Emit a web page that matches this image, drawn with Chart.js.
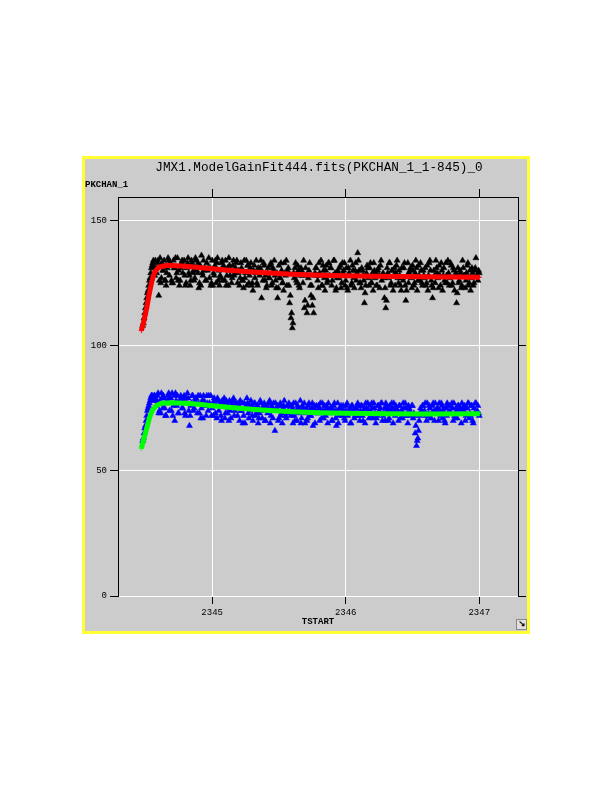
<!DOCTYPE html>
<html>
<head>
<meta charset="utf-8">
<script src="https://cdn.jsdelivr.net/npm/chart.js@4"></script>
<style>
  html, body { margin: 0; padding: 0; background: #ffffff; }
  #frame { position: absolute; left: 82px; top: 156px; width: 448px; height: 478px; box-sizing: border-box;
           border: 3px solid #ffff33; background: #cccccc; }
  #icon { position: absolute; left: 516px; top: 619px; width: 11px; height: 11px; box-sizing: border-box;
          border: 1px solid #888; background: #e0e0e0; font: bold 9px 'DejaVu Sans'; line-height: 9px;
          text-align: center; color: #000; }
  #c { position: absolute; left: 0; top: 0; }
</style>
</head>
<body>
<div id="frame"></div>
<div id="icon">↘</div>
<canvas id="c" width="612" height="792"></canvas>
<script>
const chartTitle = 'JMX1.ModelGainFit444.fits(PKCHAN_1_1-845)_0';
const yLabel = 'PKCHAN_1';
const xLabel = 'TSTART';
const xTicks = [2345, 2346, 2347];
const yTicks = [0, 50, 100, 150];

// sample times, first set
const tstart = [
2344.48,2344.49,2344.50,2344.51,2344.52,2344.53,2344.54,2344.55,2344.56,2344.57,
2344.58,2344.59,2344.60,2344.61,2344.62,2344.63,2344.64,2344.65,2344.66,2344.67,
2344.68,2344.69,2344.70,2344.71,2344.72,2344.73,2344.74,2344.75,2344.76,2344.77,
2344.78,2344.79,2344.80,2344.81,2344.82,2344.83,2344.84,2344.85,2344.86,2344.87,
2344.88,2344.89,2344.90,2344.91,2344.92,2344.93,2344.94,2344.95,2344.96,2344.97,
2344.98,2344.99,2345.00,2345.01,2345.02,2345.03,2345.04,2345.05,2345.06,2345.07,
2345.08,2345.09,2345.10,2345.11,2345.12,2345.13,2345.14,2345.15,2345.16,2345.17,
2345.18,2345.19,2345.20,2345.21,2345.22,2345.23,2345.24,2345.25,2345.26,2345.27,
2345.28,2345.29,2345.30,2345.31,2345.32,2345.33,2345.34,2345.35,2345.36,2345.37,
2345.38,2345.39,2345.40,2345.41,2345.42,2345.43,2345.44,2345.45,2345.46,2345.47,
2345.48,2345.49,2345.50,2345.51,2345.52,2345.53,2345.54,2345.55,2345.56,2345.57,
2345.58,2345.59,2345.60,2345.61,2345.62,2345.63,2345.64,2345.65,2345.66,2345.67,
2345.68,2345.69,2345.70,2345.71,2345.72,2345.73,2345.74,2345.75,2345.76,2345.77,
2345.78,2345.79,2345.80,2345.81,2345.82,2345.83,2345.84,2345.85,2345.86,2345.87,
2345.88,2345.89,2345.90,2345.91,2345.92,2345.93,2345.94,2345.95,2345.96,2345.97,
2345.98,2345.99,2346.00,2346.01,2346.02,2346.03,2346.04,2346.05,2346.06,2346.07,
2346.08,2346.09,2346.10,2346.11,2346.12,2346.13,2346.14,2346.15,2346.16,2346.17,
2346.18,2346.19,2346.20,2346.21,2346.22,2346.23,2346.24,2346.25,2346.26,2346.27,
2346.28,2346.29,2346.30,2346.31,2346.32,2346.33,2346.34,2346.35,2346.36,2346.37,
2346.38,2346.39,2346.40,2346.41,2346.42,2346.43,2346.44,2346.45,2346.46,2346.47,
2346.48,2346.49,2346.50,2346.51,2346.52,2346.53,2346.54,2346.55,2346.56,2346.57,
2346.58,2346.59,2346.60,2346.61,2346.62,2346.63,2346.64,2346.65,2346.66,2346.67,
2346.68,2346.69,2346.70,2346.71,2346.72,2346.73,2346.74,2346.75,2346.76,2346.77,
2346.78,2346.79,2346.80,2346.81,2346.82,2346.83,2346.84,2346.85,2346.86,2346.87,
2346.88,2346.89,2346.90,2346.91,2346.92,2346.93,2346.94,2346.95,2346.96,2346.97,
2346.98,2346.99,2347.00];

// sample times, second set (between the first)
const tstartB = [
2344.485,2344.495,2344.505,2344.515,2344.525,2344.535,2344.545,2344.555,2344.565,2344.575,
2344.585,2344.595,2344.605,2344.615,2344.625,2344.635,2344.645,2344.655,2344.665,2344.675,
2344.685,2344.695,2344.705,2344.715,2344.725,2344.735,2344.745,2344.755,2344.765,2344.775,
2344.785,2344.795,2344.805,2344.815,2344.825,2344.835,2344.845,2344.855,2344.865,2344.875,
2344.885,2344.895,2344.905,2344.915,2344.925,2344.935,2344.945,2344.955,2344.965,2344.975,
2344.985,2344.995,2345.005,2345.015,2345.025,2345.035,2345.045,2345.055,2345.065,2345.075,
2345.085,2345.095,2345.105,2345.115,2345.125,2345.135,2345.145,2345.155,2345.165,2345.175,
2345.185,2345.195,2345.205,2345.215,2345.225,2345.235,2345.245,2345.255,2345.265,2345.275,
2345.285,2345.295,2345.305,2345.315,2345.325,2345.335,2345.345,2345.355,2345.365,2345.375,
2345.385,2345.395,2345.405,2345.415,2345.425,2345.435,2345.445,2345.455,2345.465,2345.475,
2345.485,2345.495,2345.505,2345.515,2345.525,2345.535,2345.545,2345.555,2345.565,2345.575,
2345.585,2345.595,2345.605,2345.615,2345.625,2345.635,2345.645,2345.655,2345.665,2345.675,
2345.685,2345.695,2345.705,2345.715,2345.725,2345.735,2345.745,2345.755,2345.765,2345.775,
2345.785,2345.795,2345.805,2345.815,2345.825,2345.835,2345.845,2345.855,2345.865,2345.875,
2345.885,2345.895,2345.905,2345.915,2345.925,2345.935,2345.945,2345.955,2345.965,2345.975,
2345.985,2345.995,2346.005,2346.015,2346.025,2346.035,2346.045,2346.055,2346.065,2346.075,
2346.085,2346.095,2346.105,2346.115,2346.125,2346.135,2346.145,2346.155,2346.165,2346.175,
2346.185,2346.195,2346.205,2346.215,2346.225,2346.235,2346.245,2346.255,2346.265,2346.275,
2346.285,2346.295,2346.305,2346.315,2346.325,2346.335,2346.345,2346.355,2346.365,2346.375,
2346.385,2346.395,2346.405,2346.415,2346.425,2346.435,2346.445,2346.455,2346.465,2346.475,
2346.485,2346.495,2346.505,2346.515,2346.525,2346.535,2346.545,2346.555,2346.565,2346.575,
2346.585,2346.595,2346.605,2346.615,2346.625,2346.635,2346.645,2346.655,2346.665,2346.675,
2346.685,2346.695,2346.705,2346.715,2346.725,2346.735,2346.745,2346.755,2346.765,2346.775,
2346.785,2346.795,2346.805,2346.815,2346.825,2346.835,2346.845,2346.855,2346.865,2346.875,
2346.885,2346.895,2346.905,2346.915,2346.925,2346.935,2346.945,2346.955,2346.965,2346.975,
2346.985,2346.995];

const pkBlack = [
108,111,115,119,122,126,129,132,134,128,
131,133,120,135,127,130,134,126,129,135,
128,132,125,134,131,127,135,130,126,133,
129,134,124,131,135,128,126,133,130,127,
134,129,123,132,136,128,130,126,133,131,
127,124,134,129,132,125,135,130,128,133,
126,131,134,128,124,132,130,127,134,129,
133,125,130,127,131,126,134,129,124,132,
128,133,125,130,127,134,124,129,131,119,
126,132,128,124,131,127,133,125,130,128,
123,119,132,127,130,125,133,128,124,131,
117,111,107,129,131,126,132,124,128,130,
125,115,131,113,127,133,120,116,113,129,
131,126,133,128,124,132,127,130,125,133,
128,131,126,134,129,123,130,127,132,125,
129,133,126,123,131,128,124,132,127,130,
126,137,130,125,131,128,117,124,132,127,
131,125,129,133,127,124,130,128,132,126,
129,119,115,131,127,133,125,130,128,124,
132,127,130,124,131,126,133,118,128,125,
130,127,132,124,129,131,126,128,133,125,
130,127,124,132,128,134,126,119,130,125,
131,127,132,124,130,128,126,133,125,129,
127,132,125,130,128,117,131,126,129,124,
131,128,126,132,124,130,127,129,125,131,
128,126,129];

const pkBlackB = [
109,113,117,121,124,127,131,133,131,134,
129,134,126,125,133,130,126,124,131,134,
133,126,125,131,135,129,126,124,131,134,
132,128,125,133,129,124,134,129,126,135,
130,133,125,124,129,134,131,126,130,135,
131,125,124,128,134,133,126,124,127,134,
132,126,124,131,135,128,125,132,128,131,
134,129,124,133,126,123,127,134,132,125,
131,124,122,132,129,125,131,128,134,129,
133,126,123,129,127,132,124,131,134,126,
129,123,127,133,125,122,129,134,130,124,
120,113,109,127,133,125,130,123,131,128,
134,118,128,116,130,124,124,119,128,131,
128,123,129,134,124,130,122,132,126,133,
131,124,128,134,122,127,129,131,123,133,
130,124,131,122,129,134,125,130,123,133,
129,134,125,123,130,126,121,129,131,124,
133,125,122,130,129,124,131,123,134,128,
127,123,118,129,133,124,130,122,131,129,
134,125,128,122,127,131,124,122,133,129,
131,123,130,125,134,122,132,126,130,124,
128,131,125,122,133,130,124,123,128,134,
129,123,128,133,122,131,125,128,134,124,
133,124,131,122,129,121,125,130,123,134,
128,123,129,133,125,122,131,124,130,135,
128,130];

const pkBlue = [
62,65,68,72,75,77,79,80,78,80,
76,80,73,78,81,75,79,72,77,80,
74,79,81,76,70,78,80,73,77,79,
75,80,72,77,79,68,76,80,74,78,
79,73,77,80,75,71,78,76,80,74,
77,80,75,72,78,76,79,74,77,70,
76,79,73,77,75,78,71,76,79,74,
77,72,76,78,74,69,77,75,79,73,
76,78,72,75,77,73,76,71,78,74,
75,77,70,76,74,78,72,75,77,66,
74,76,71,77,73,75,78,72,76,74,
76,72,75,77,70,74,76,73,78,71,
75,77,73,70,76,74,72,77,75,69,
76,73,75,77,71,74,76,72,75,77,
73,75,70,76,74,68,77,72,75,74,
76,71,74,77,73,75,69,76,74,72,
75,77,72,74,76,70,75,77,73,74,
76,72,75,77,73,71,76,74,75,77,
72,75,77,74,70,76,73,75,77,72,
75,73,76,71,74,77,72,75,73,76,
74,72,76,73,65,60,63,70,75,73,
76,74,72,77,73,75,71,76,74,77,
73,75,77,72,76,74,70,75,77,73,
76,73,75,77,71,74,76,73,75,77,
74,76,72,75,77,73,76,70,75,77,
73,76,72];

const pkBlueB = [
63,67,70,74,76,78,80,79,80,79,
78,81,74,73,79,80,75,72,78,81,
79,74,72,80,81,76,73,78,80,75,
78,73,79,81,74,72,77,80,75,79,
77,80,73,71,78,80,76,72,77,80,
76,72,77,79,73,71,78,76,72,78,
77,71,78,73,70,74,77,78,72,77,
75,77,70,74,77,72,69,76,77,71,
74,76,70,77,72,76,69,73,77,71,
76,70,75,73,77,69,76,71,74,77,
75,70,76,72,69,76,74,71,73,77,
73,76,69,72,77,70,75,74,69,76,
74,69,75,71,77,72,75,68,76,74,
73,76,70,74,77,71,74,76,69,74,
75,70,74,77,71,74,69,75,76,72,
74,70,76,72,74,69,76,74,71,75,
73,76,70,76,72,74,69,75,77,71,
74,77,71,75,69,72,76,73,77,70,
73,70,76,75,71,74,77,69,74,76,
74,70,76,74,71,75,77,72,69,75,
73,76,71,72,68,62,66,72,74,76,
73,77,70,72,76,71,73,77,70,74,
75,70,74,77,71,75,69,72,76,74,
73,77,70,72,75,71,76,74,69,75,
74,70,75,77,71,72,76,69,73,77,
74,73];

const fitRedT = [2344.47,2344.49,2344.51,2344.53,2344.55,2344.57,2344.60,2344.65,2344.70,2344.80,2344.90,2345.00,2345.10,2345.20,2345.30,2345.40,2345.50,2345.60,2345.75,2345.90,2346.00,2346.20,2346.40,2346.60,2346.80,2347.00];
const fitRedV = [106,110,115,121,126,129.5,131.3,132,132,131.7,131.2,130.7,130.2,129.8,129.4,129.1,128.8,128.5,128.2,128.0,127.9,127.7,127.6,127.5,127.4,127.3];
const fitGreenT = [2344.47,2344.49,2344.51,2344.53,2344.55,2344.58,2344.62,2344.70,2344.80,2344.90,2345.00,2345.10,2345.20,2345.40,2345.60,2345.80,2346.00,2346.30,2346.60,2347.00];
const fitGreenV = [59,63,67,71,74,76,77,77.2,77,76.6,76,75.5,75,74.2,73.6,73.2,73,72.8,72.7,72.8];

const toXY = (xs, ys) => xs.map((x, i) => ({ x: x, y: ys[i] }));
const mono = 'Liberation Mono';
Chart.defaults.color = '#000';

const fixedTicks = (vals) => (s) => { s.ticks = vals.map(v => ({ value: v })); };

new Chart(document.getElementById('c'), {
  type: 'scatter',
  data: {
    datasets: [
      { label: 'fit1', data: toXY(fitRedT, fitRedV), showLine: true, borderColor: '#ff0000', backgroundColor: '#ff0000',
        borderWidth: 5, pointStyle: 'cross', pointRadius: 2.5, pointBorderWidth: 1, order: 0 },
      { label: 'fit2', data: toXY(fitGreenT, fitGreenV), showLine: true, borderColor: '#00ff00', backgroundColor: '#00ff00',
        borderWidth: 5, pointStyle: 'cross', pointRadius: 2.5, pointBorderWidth: 1, order: 0 },
      { label: 'PKCHAN_1 a', data: toXY(tstart, pkBlack).concat(toXY(tstartB, pkBlackB)), pointStyle: 'triangle', pointRadius: 3.5,
        backgroundColor: '#000000', borderColor: '#000000', borderWidth: 0.5, order: 1 },
      { label: 'PKCHAN_1 b', data: toXY(tstart, pkBlue).concat(toXY(tstartB, pkBlueB)), pointStyle: 'triangle', pointRadius: 3.5,
        backgroundColor: '#0000ff', borderColor: '#0000ff', borderWidth: 0.5, order: 1 }
    ]
  },
  options: {
    responsive: false,
    animation: false,
    devicePixelRatio: 1,
    layout: { padding: { left: 85, right: 59, top: 160, bottom: 162 } },
    plugins: {
      legend: { display: false },
      tooltip: { enabled: false },
      title: { display: true, text: chartTitle, color: '#000',
               font: { family: mono, size: 12.7, weight: 'normal' }, padding: { top: 0, bottom: 0 } },
      subtitle: { display: true, text: yLabel, align: 'start', color: '#000',
                  font: { family: mono, size: 9, weight: 'bold' }, padding: { top: 4, bottom: 0 } }
    },
    scales: {
      x: {
        type: 'linear', position: 'bottom', min: 2344.295, max: 2347.29,
        afterBuildTicks: fixedTicks(xTicks),
        afterFit: (s) => { s.height = 34; },
        ticks: { callback: (v) => String(v), font: { family: mono, size: 9 }, color: '#000', padding: 3, maxRotation: 0, autoSkip: false },
        grid: { color: '#ffffff', lineWidth: 1, tickColor: '#000000', tickLength: 8, drawTicks: true },
        border: { display: false },
        title: { display: true, text: xLabel, color: '#000', font: { family: mono, size: 9, weight: 'bold' }, padding: { top: 0, bottom: 3 } }
      },
      x2: {
        type: 'linear', position: 'top', min: 2344.295, max: 2347.29,
        afterBuildTicks: fixedTicks(xTicks),
        afterFit: (s) => { s.height = 6.96; },
        ticks: { display: false },
        grid: { drawOnChartArea: false, tickColor: '#000000', tickLength: 8 },
        border: { display: true, color: '#000000', width: 1 }
      },
      y: {
        type: 'linear', position: 'left', min: 0, max: 159.35,
        afterBuildTicks: fixedTicks(yTicks),
        afterFit: (s) => { s.width = 33; },
        ticks: { callback: (v) => String(v), font: { family: mono, size: 9 }, color: '#000', padding: 3 },
        grid: { color: '#ffffff', lineWidth: 1, tickColor: '#000000', tickLength: 8 },
        border: { display: true, color: '#000000', width: 1 }
      },
      y2: {
        type: 'linear', position: 'right', min: 0, max: 159.35,
        afterBuildTicks: fixedTicks(yTicks),
        afterFit: (s) => { s.width = 35; },
        ticks: { display: false },
        grid: { drawOnChartArea: false, tickColor: '#000000', tickLength: 8 },
        border: { display: true, color: '#000000', width: 1 }
      }
    }
  }
});
</script>
</body>
</html>
